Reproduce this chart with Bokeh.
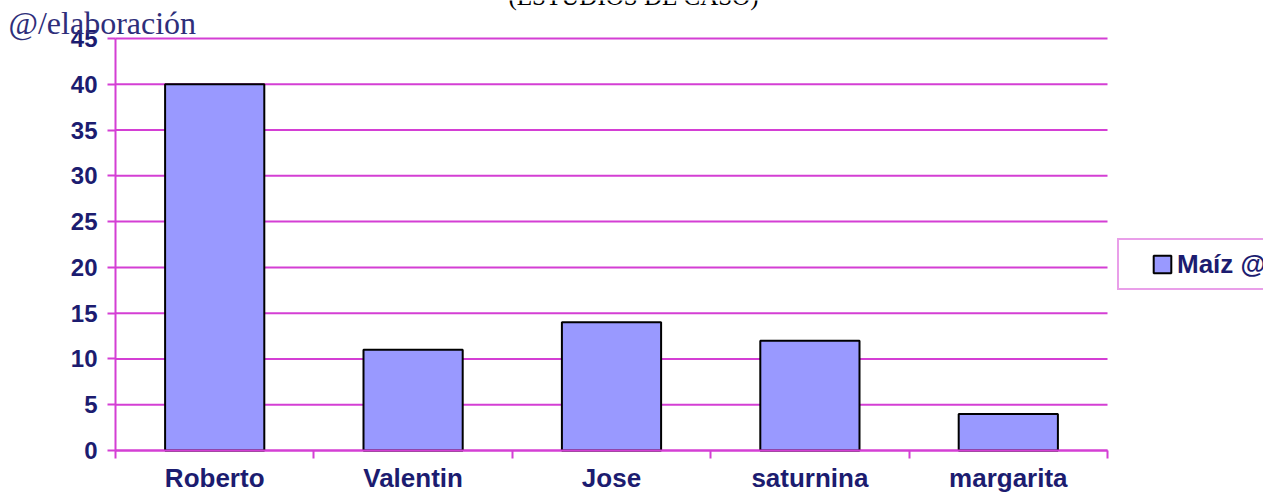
from bokeh.plotting import figure
from bokeh.models import FixedTicker, Label, Legend, LegendItem, ColumnDataSource, Range1d
from bokeh.embed import file_html
from bokeh.resources import INLINE

# ---- data ----
names = ["Roberto", "Valentin", "Jose", "saturnina", "margarita"]
values = [40, 11, 14, 12, 4]
y_ticks = [0, 5, 10, 15, 20, 25, 30, 35, 40, 45]
series_name = "Maíz @"
title_text = "(ESTUDIOS DE CASO)"
note_text = "@/elaboración"

MAG = "#d43fd4"
NAVY = "#1c1c70"

# ---- layout (pixels of the reference picture) ----
W, H = 1263, 495          # canvas size
PX_LEFT, PX_RIGHT = 115, 1107   # plot area left/right
PY_TOP, PY_BOTTOM = 38, 450     # plot area top/bottom

n = len(names)
ymax = y_ticks[-1]
sx = (PX_RIGHT - PX_LEFT) / n
sy = (PY_BOTTOM - PY_TOP) / ymax
x_start = -PX_LEFT / sx
x_end = (W - PX_LEFT) / sx
y_end = PY_BOTTOM / sy
y_start = (PY_BOTTOM - H) / sy

positions = [i + 0.5 for i in range(n)]
src = ColumnDataSource(dict(x=positions, top=values, name=names))
grid_src = ColumnDataSource(dict(x0=[0] * len(y_ticks), x1=[n] * len(y_ticks),
                                 y=y_ticks))

p = figure(width=W, height=H, output_backend="svg", toolbar_location=None,
           x_range=Range1d(x_start, x_end), y_range=Range1d(y_start, y_end),
           min_border=0, min_border_left=0, min_border_right=0,
           min_border_top=0, min_border_bottom=0)
p.outline_line_color = None
p.background_fill_color = "white"
p.xgrid.visible = False
p.ygrid.visible = False

# horizontal grid lines limited to the plot area
p.segment(x0="x0", x1="x1", y0="y", y1="y", source=grid_src, line_color=MAG, line_width=2)

r = p.vbar(x="x", top="top", width=0.5, source=src, fill_color="#9999ff",
           line_color="black", line_width=2)
# invisible renderer, only used to indent the legend entry
spacer = p.vbar(x=[], top=[], width=0.5, fill_alpha=0, line_alpha=0)

# x axis: boundaries as minor ticks, names at centres
p.xaxis.fixed_location = 0
p.xaxis.bounds = (0, n)
p.xaxis.ticker = FixedTicker(ticks=positions, minor_ticks=list(range(n + 1)))
p.xaxis.major_label_overrides = {pos: nm for pos, nm in zip(positions, names)}
p.xaxis.major_tick_out = 0
p.xaxis.major_tick_in = 0
p.xaxis.minor_tick_out = 8
p.xaxis.minor_tick_in = 0
p.xaxis.minor_tick_line_color = MAG
p.xaxis.minor_tick_line_width = 2
p.xaxis.axis_line_color = MAG
p.xaxis.axis_line_width = 2
p.xaxis.major_label_standoff = 4
p.xaxis.major_label_text_font_size = "26px"

p.yaxis.fixed_location = 0
p.yaxis.bounds = (0, ymax)
p.yaxis.ticker = FixedTicker(ticks=y_ticks)
p.yaxis.major_tick_out = 8
p.yaxis.major_tick_in = 0
p.yaxis.major_tick_line_color = MAG
p.yaxis.major_tick_line_width = 2
p.yaxis.minor_tick_line_color = None
p.yaxis.axis_line_color = MAG
p.yaxis.axis_line_width = 2
p.yaxis.major_label_standoff = 10
p.yaxis.major_label_text_font_size = "24px"

for ax in (p.xaxis, p.yaxis):
    ax.major_label_text_font = "Liberation Sans"
    ax.major_label_text_font_style = "bold"
    ax.major_label_text_color = NAVY

note = Label(x=8, y=H - 22, x_units="screen", y_units="screen", text=note_text,
             text_font="Liberation Serif", text_font_size="32px", text_color="#2e2e7a",
             text_baseline="alphabetic")
p.add_layout(note)

ttl = Label(x=508, y=H + 4, x_units="screen", y_units="screen", text=title_text,
            text_font="Liberation Serif", text_font_size="25px",
            text_color="black", text_baseline="alphabetic")
p.add_layout(ttl)

legend = Legend(items=[LegendItem(label="", renderers=[spacer]),
                       LegendItem(label=series_name, renderers=[r])],
                orientation="horizontal",
                location=(1117, H - 290),
                border_line_color=MAG, border_line_width=2, padding=6, spacing=0,
                glyph_width=22, glyph_height=22, label_height=36, label_width=0,
                label_standoff=4,
                label_text_font="Liberation Sans", label_text_font_style="bold",
                label_text_font_size="26px", label_text_color=NAVY,
                background_fill_color="white", background_fill_alpha=1)
p.add_layout(legend)

open("out.html", "w").write(file_html(p, INLINE))
